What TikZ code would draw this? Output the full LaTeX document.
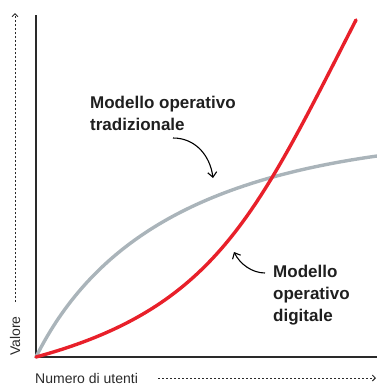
\documentclass[tikz,border=0pt]{standalone}
\usepackage{fontspec}
\setmainfont{Liberation Sans}
\usetikzlibrary{arrows.meta}
\definecolor{cred}{HTML}{E8202A}
\definecolor{cgray}{HTML}{AAB4BA}
\definecolor{caxis}{HTML}{2A2A2A}
\tikzset{
  axisline/.style={draw=caxis, line width=1.4pt},
  curve/.style={line width=3.4pt, line cap=round},
  dotline/.style={draw=caxis, line width=1pt, dash pattern=on 2pt off 2pt, -{Straight Barb[length=3pt,width=6pt,line width=0.9pt]}},
  pointer/.style={draw=black, line width=1.1pt, -{Straight Barb[length=5pt,width=9pt,line width=1.1pt]}},
  biglabel/.style={font=\fontsize{17}{22}\selectfont\bfseries, text=black!88, align=left, inner sep=0pt},
  axlabel/.style={font=\fontsize{14}{16}\selectfont, text=caxis, inner sep=0pt}
}
\begin{document}
\begin{tikzpicture}[x=1pt,y=-1pt]
\useasboundingbox (0,0) rectangle (377,386);
% axes
\coordinate (O) at (36,357);
\coordinate (ytop) at (36,15);
\coordinate (xend) at (377,357);
\draw[axisline] (ytop) -- (O) -- (xend);
% gray curve
\draw[curve, cgray] (O) .. controls (96,237) and (207,180) .. (377,156);
% red curve
\draw[curve, cred] (O) .. controls (216,308) and (256,215) .. (356,20);
% axis labels
\node[axlabel, rotate=90, anchor=west] (val) at (15,356) {Valore};
\coordinate (vtop) at (15,13);
\draw[dotline] (15,302) -- (vtop);
\node[axlabel, anchor=base west] (num) at (35,383) {Numero di utenti};
\coordinate (hend) at (376,378);
\draw[dotline] (158,378) -- (hend);
% labels
\node[biglabel, anchor=base west] (trad) at (90,130) {Modello operativo\\tradizionale};
\node[biglabel, anchor=base west] (dig) at (273,321) {Modello\\operativo\\digitale};
% pointers
\coordinate (t1) at (173,138);
\coordinate (t2) at (213,178);
\draw[pointer] (t1) .. controls (195,138) and (210,155) .. (t2);
\coordinate (d1) at (265,273);
\coordinate (d2) at (234,252);
\draw[pointer] (d1) .. controls (252,273) and (240,264) .. (d2);
\end{tikzpicture}
\end{document}
